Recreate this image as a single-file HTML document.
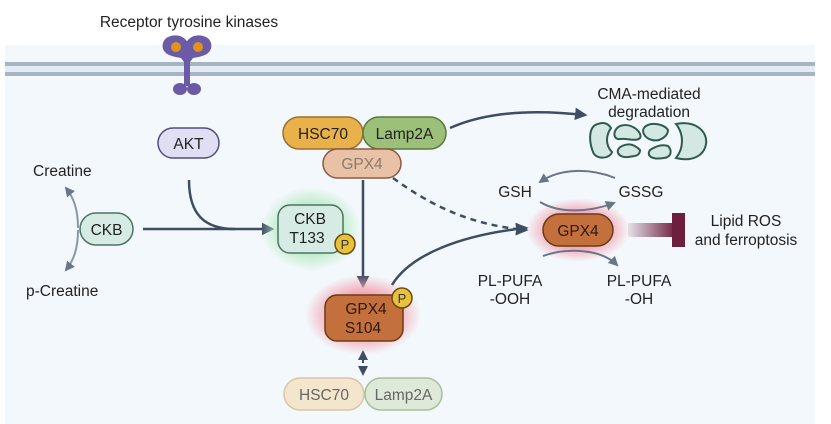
<!DOCTYPE html>
<html><head><meta charset="utf-8"><style>
html,body{margin:0;padding:0;background:#fff;}
svg{display:block;font-family:"Liberation Sans",sans-serif;}
</style></head><body>
<svg width="831" height="424" viewBox="0 0 831 424" xmlns="http://www.w3.org/2000/svg">
<defs>
<marker id="ah" viewBox="0 0 10 10" refX="8" refY="5" markerWidth="5" markerHeight="5" orient="auto-start-reverse"><path d="M0,0 L10,5 L0,10 z" fill="#3f4d63"/></marker>
<marker id="ahg" viewBox="0 0 10 10" refX="8" refY="5" markerWidth="5" markerHeight="5" orient="auto-start-reverse"><path d="M0,0 L10,5 L0,10 z" fill="#6a7688"/></marker>
<radialGradient id="gg"><stop offset="0.55" stop-color="#b8ecc4"/><stop offset="1" stop-color="#b8ecc4" stop-opacity="0"/></radialGradient>
<radialGradient id="pg"><stop offset="0.55" stop-color="#f3a7b6"/><stop offset="1" stop-color="#f3a7b6" stop-opacity="0"/></radialGradient>
<linearGradient id="inh" x1="0" x2="1"><stop offset="0" stop-color="#6e1f3e" stop-opacity="0.1"/><stop offset="1" stop-color="#6e1f3e"/></linearGradient>
</defs>
<rect x="5" y="45" width="810" height="379" fill="#f3f8fc"/>
<rect x="5" y="62" width="810" height="14" fill="#e3ecf5"/>
<rect x="5" y="62" width="810" height="4" fill="#a8b4c2"/>
<rect x="5" y="72" width="810" height="4" fill="#a8b4c2"/>
<text x="189" y="27" font-size="15.5" text-anchor="middle" fill="#222">Receptor tyrosine kinases</text>
<!-- receptor -->
<g fill="#6b5aa6">
<path d="M186,40 C182,35 174,34 168,37 C162,40 161,48 165,52 C168,56 176,57 181,58 L184,62 L184,86 L190,86 L190,58 C190,50 190,44 186,40z"/>
<path d="M188,40 C192,35 200,34 206,37 C212,40 213,48 209,52 C206,56 198,57 193,58 L190,62 L190,86 L184,86 L184,58 C184,50 184,44 188,40z"/>
<ellipse cx="180" cy="89" rx="7" ry="6"/><ellipse cx="194" cy="89" rx="7" ry="6"/>
</g>
<circle cx="176" cy="47" r="5" fill="#e0921c"/><circle cx="198" cy="47" r="5" fill="#e0921c"/>
<!-- AKT -->
<rect x="158" y="128" width="61" height="30" rx="15" fill="#e0def2" stroke="#554c7c" stroke-width="1.5"/>
<text x="188.5" y="149" font-size="15.5" text-anchor="middle" fill="#222">AKT</text>
<!-- creatine -->
<text x="33" y="176" font-size="15.5" fill="#222">Creatine</text>
<text x="26" y="296" font-size="15.5" fill="#222">p-Creatine</text>
<path d="M78,228 C78,210 74,198 66,188" fill="none" stroke="#8a96a8" stroke-width="2" marker-end="url(#ahg)"/>
<path d="M78,230 C78,248 74,260 66,270" fill="none" stroke="#8a96a8" stroke-width="2" marker-end="url(#ahg)"/>
<rect x="80" y="213" width="53" height="32" rx="16" fill="#d7ebe5" stroke="#4b7464" stroke-width="1.5"/>
<text x="106.5" y="235" font-size="15.5" text-anchor="middle" fill="#222">CKB</text>
<line x1="143" y1="229" x2="272" y2="229" stroke="#3f4d63" stroke-width="2.5" marker-end="url(#ah)"/>
<path d="M189,180 C189,215 205,229 235,229" fill="none" stroke="#3f4d63" stroke-width="2.5"/>
<!-- CKB T133 -->
<ellipse cx="311" cy="229" rx="50" ry="42" fill="url(#gg)"/>
<rect x="278" y="205" width="65" height="48" rx="12" fill="#d7ebe5" stroke="#4b7464" stroke-width="1.5"/>
<text x="310" y="224" font-size="15.5" text-anchor="middle" fill="#222">CKB</text>
<text x="307" y="243" font-size="15.5" text-anchor="middle" fill="#222">T133</text>
<circle cx="345" cy="244" r="10" fill="#e8c23a" stroke="#6b4a10" stroke-width="1.5"/>
<text x="345" y="249" font-size="13" text-anchor="middle" fill="#333">P</text>
<!-- HSC70/Lamp2A top -->
<path d="M450,128 C490,110 540,110 585,115" fill="none" stroke="#3f4d63" stroke-width="2.5" marker-end="url(#ah)"/>
<rect x="283" y="117" width="80" height="32" rx="16" fill="#e8b14a" stroke="#9a7030" stroke-width="1.5"/>
<text x="323" y="139" font-size="15.5" text-anchor="middle" fill="#222">HSC70</text>
<rect x="363" y="117" width="83" height="32" rx="16" fill="#9cc07a" stroke="#5a7a3a" stroke-width="1.5"/>
<text x="404.5" y="139" font-size="15.5" text-anchor="middle" fill="#222">Lamp2A</text>
<rect x="323" y="149" width="78" height="29" rx="14.5" fill="#e9c1a6" stroke="#8a5a40" stroke-width="1.5"/>
<text x="362" y="169" font-size="15.5" text-anchor="middle" fill="#8a7a70">GPX4</text>
<!-- CMA -->
<text x="649" y="99" font-size="15.5" text-anchor="middle" fill="#222">CMA-mediated</text>
<text x="649" y="117" font-size="15.5" text-anchor="middle" fill="#222">degradation</text>
<g fill="#d3e8e2" stroke="#2f5a4e" stroke-width="2">
<path d="M598,124 C588,126 589,142 593,152 C596,160 610,159 612,152 C605,145 606,135 611,128 C608,123 603,122 598,124z"/>
<path d="M620,126 C612,130 613,140 620,139 C628,138 636,142 640,138 C643,133 632,122 620,126z"/>
<path d="M622,146 C614,150 618,158 628,157 C635,156 640,156 640,150 C636,146 630,142 622,146z"/>
<path d="M646,126 C640,130 644,138 652,140 C660,142 668,136 668,130 C664,124 652,122 646,126z"/>
<path d="M650,150 C646,156 652,160 664,158 C672,157 672,150 668,146 C662,144 656,146 650,150z"/>
<path d="M676,124 C696,120 708,132 706,144 C704,156 692,162 676,158 C684,148 684,134 676,124z"/>
</g>
<!-- dashed -->
<path d="M393,178 C430,205 470,225 526,230" fill="none" stroke="#3f4d63" stroke-width="2.5" stroke-dasharray="6,5" marker-end="url(#ah)"/>
<!-- vertical -->
<line x1="363" y1="180" x2="363" y2="286" stroke="#3f4d63" stroke-width="2.5" marker-end="url(#ah)"/>
<!-- S104 -->
<ellipse cx="363" cy="315" rx="58" ry="40" fill="url(#pg)"/>
<path d="M392,285 C410,255 460,235 526,228" fill="none" stroke="#3f4d63" stroke-width="2.5" marker-end="url(#ah)"/>
<rect x="325" y="295" width="78" height="46" rx="12" fill="#c4703c" stroke="#6b3a1a" stroke-width="1.5"/>
<text x="366" y="314" font-size="15.5" text-anchor="middle" fill="#2a1a10">GPX4</text>
<text x="363" y="333" font-size="15.5" text-anchor="middle" fill="#2a1a10">S104</text>
<circle cx="402" cy="298" r="10" fill="#e8c23a" stroke="#6b4a10" stroke-width="1.5"/>
<text x="402" y="303" font-size="13" text-anchor="middle" fill="#333">P</text>
<line x1="363" y1="352" x2="363" y2="374" stroke="#3f4d63" stroke-width="2" stroke-dasharray="4,3" marker-start="url(#ah)" marker-end="url(#ah)"/>
<!-- bottom -->
<rect x="284" y="378" width="80" height="32" rx="16" fill="#f4e6cc" stroke="#d8c8a8" stroke-width="1.5"/>
<text x="324" y="400" font-size="15.5" text-anchor="middle" fill="#666">HSC70</text>
<rect x="365" y="378" width="77" height="32" rx="16" fill="#dfe9da" stroke="#a8c098" stroke-width="1.5"/>
<text x="403.5" y="400" font-size="15.5" text-anchor="middle" fill="#666">Lamp2A</text>
<!-- right GPX4 -->
<ellipse cx="578" cy="230" rx="52" ry="32" fill="url(#pg)"/>
<path d="M615,178 C590,168 560,168 540,182" fill="none" stroke="#6a7688" stroke-width="2" marker-end="url(#ahg)"/>
<path d="M540,202 C560,214 590,212 614,203" fill="none" stroke="#6a7688" stroke-width="2" marker-end="url(#ahg)"/>
<path d="M543,256 C565,248 600,248 617,265" fill="none" stroke="#6a7688" stroke-width="2" marker-end="url(#ahg)"/>
<text x="515" y="197" font-size="15.5" text-anchor="middle" fill="#222">GSH</text>
<text x="641" y="197" font-size="15.5" text-anchor="middle" fill="#222">GSSG</text>
<rect x="543" y="214" width="70" height="32" rx="16" fill="#c4703c" stroke="#6b3a1a" stroke-width="1.5"/>
<text x="578" y="236" font-size="15.5" text-anchor="middle" fill="#2a1a10">GPX4</text>
<rect x="628" y="223" width="48" height="14" fill="url(#inh)"/>
<rect x="672" y="213" width="13" height="34" fill="#6e1f3e"/>
<text x="746" y="226" font-size="15.5" text-anchor="middle" fill="#222">Lipid ROS</text>
<text x="746" y="245" font-size="15.5" text-anchor="middle" fill="#222">and ferroptosis</text>
<text x="510" y="286" font-size="15.5" text-anchor="middle" fill="#222">PL-PUFA</text>
<text x="510" y="304" font-size="15.5" text-anchor="middle" fill="#222">-OOH</text>
<text x="639" y="286" font-size="15.5" text-anchor="middle" fill="#222">PL-PUFA</text>
<text x="639" y="304" font-size="15.5" text-anchor="middle" fill="#222">-OH</text>
</svg>
</body></html>
